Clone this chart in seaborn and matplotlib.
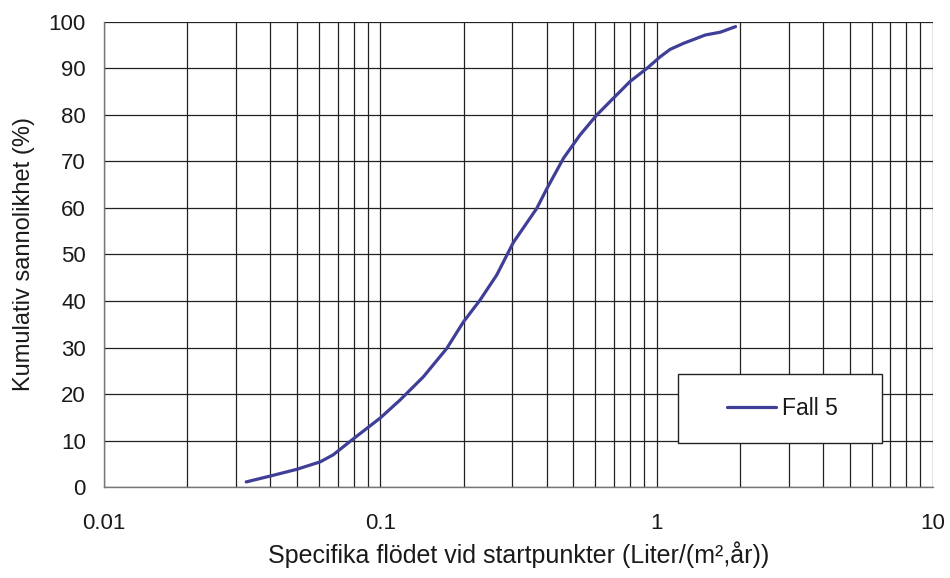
import matplotlib
matplotlib.use("Agg")
import matplotlib.pyplot as plt
import matplotlib.ticker as mticker
from matplotlib.patches import Rectangle
import pandas as pd
import seaborn as sns

# Values
flode = [0.0327, 0.0402, 0.0498, 0.0605, 0.0674, 0.0796, 0.0997, 0.1178,
         0.1431, 0.1739, 0.1998, 0.2295, 0.2638, 0.303, 0.368, 0.400,
         0.46, 0.528, 0.607, 0.697, 0.801, 0.921, 1.029, 1.118, 1.25,
         1.50, 1.70, 1.93]
sannolikhet = [1.1, 2.4, 3.8, 5.4, 6.9, 10.3, 14.8, 18.7,
               23.7, 29.8, 35.5, 40.2, 45.6, 52.6, 59.9, 64.1,
               70.7, 75.7, 80.0, 83.6, 87.2, 90.0, 92.5, 94.1, 95.4,
               97.2, 97.8, 99.0]
serie = "Fall 5"
x_ticks = [0.01, 0.1, 1, 10]
x_ticklabels = ["0.01", "0.1", "1", "10"]
y_ticks = list(range(0, 101, 10))

df = pd.DataFrame({"x": flode, "y": sannolikhet, "serie": serie})

sns.set_style("white")
plt.rcParams["font.family"] = ["Liberation Sans", "DejaVu Sans"]

LINE_COLOR = "#3f3f98"
TEXT_COLOR = "#1a1a1a"

fig = plt.figure(figsize=(9.5, 5.78), dpi=100)
ax = fig.add_axes([0.1095, 0.1574, 0.8726, 0.8046])

sns.lineplot(data=df, x="x", y="y", hue="serie", palette=[LINE_COLOR],
             linewidth=2.3, ax=ax, legend=False, sort=False)

ax.set_xscale("log")
ax.set_xlim(0.01, 10)
ax.set_ylim(0, 100)

# Grid: every decade subdivision and every 10 %
ax.xaxis.set_major_locator(mticker.FixedLocator(x_ticks))
ax.xaxis.set_major_formatter(mticker.FixedFormatter(x_ticklabels))
ax.xaxis.set_minor_locator(mticker.LogLocator(base=10, subs=range(2, 10)))
ax.xaxis.set_minor_formatter(mticker.NullFormatter())
ax.set_yticks(y_ticks)
ax.grid(True, which="major", axis="both", color="#222222", linewidth=0.9)
ax.grid(True, which="minor", axis="x", color="#222222", linewidth=0.9)
ax.set_axisbelow(True)

ax.tick_params(axis="both", which="major", direction="out", length=7,
               width=0.9, color="#555555", labelsize=16, pad=6,
               labelcolor=TEXT_COLOR)
ax.tick_params(axis="x", which="minor", length=0)
ax.tick_params(axis="x", which="major", pad=12)

for side in ["top", "right"]:
    ax.spines[side].set_visible(False)
for side in ["left", "bottom"]:
    ax.spines[side].set_color("#777777")
    ax.spines[side].set_linewidth(1.0)

ax.set_xlabel("Specifika flödet vid startpunkter (Liter/(m²,år))", fontsize=18,
              labelpad=5, color=TEXT_COLOR)
ax.set_ylabel("Kumulativ sannolikhet (%)", fontsize=17, labelpad=10, color=TEXT_COLOR)

# Legend box drawn separately so its size matches the reference
box = Rectangle((0.692, 0.0946), 0.246, 0.148, transform=ax.transAxes,
                facecolor="white", edgecolor="#222222", linewidth=1.0, zorder=5)
ax.add_patch(box)
handle = plt.Line2D([], [], color=LINE_COLOR, linewidth=2.3)
leg = ax.legend([handle], [serie], loc="center", bbox_to_anchor=(0.8185, 0.1688),
                frameon=False, fontsize=16.5, handlelength=2.15, handletextpad=0.26)
leg.set_zorder(6)
for t in leg.get_texts():
    t.set_color(TEXT_COLOR)

fig.savefig("out.png", dpi=100)
